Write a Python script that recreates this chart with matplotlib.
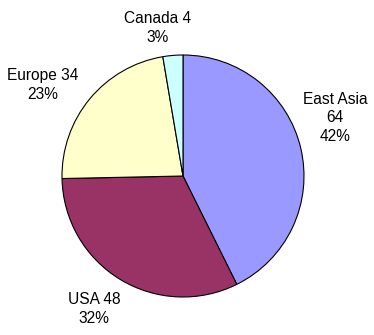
import matplotlib.pyplot as plt

regions = ['East Asia', 'USA', 'Europe', 'Canada']
values = [64, 48, 34, 4]
colors = ['#9999FF', '#993366', '#FFFFCC', '#CCFFFF']
label_text = ['East Asia\n64\n42%', 'USA 48\n32%', 'Europe 34\n23%', 'Canada 4\n3%']
# label centres in pixels (x, y from top)
label_pos = [(335, 118), (94, 309), (43, 85), (158, 28)]

W, H = 374, 335
fig = plt.figure(figsize=(W / 100, H / 100), dpi=100)
plt.rcParams['font.family'] = ['Liberation Sans', 'DejaVu Sans']

# pie centre (183, 176), radius 121 px
ax = fig.add_axes([62 / W, (H - 297) / H, 242 / W, 242 / H])
ax.pie(values, colors=colors, startangle=90, counterclock=False,
       wedgeprops={'edgecolor': 'black', 'linewidth': 0.8})
ax.set_xlim(-1, 1)
ax.set_ylim(-1, 1)
ax.axis('off')

for txt, (px, py) in zip(label_text, label_pos):
    fig.text(px / W, 1 - py / H, txt, ha='center', va='center',
             fontsize=11.2, linespacing=1.3, color='black')

fig.savefig('out.png', dpi=100, facecolor='white')
